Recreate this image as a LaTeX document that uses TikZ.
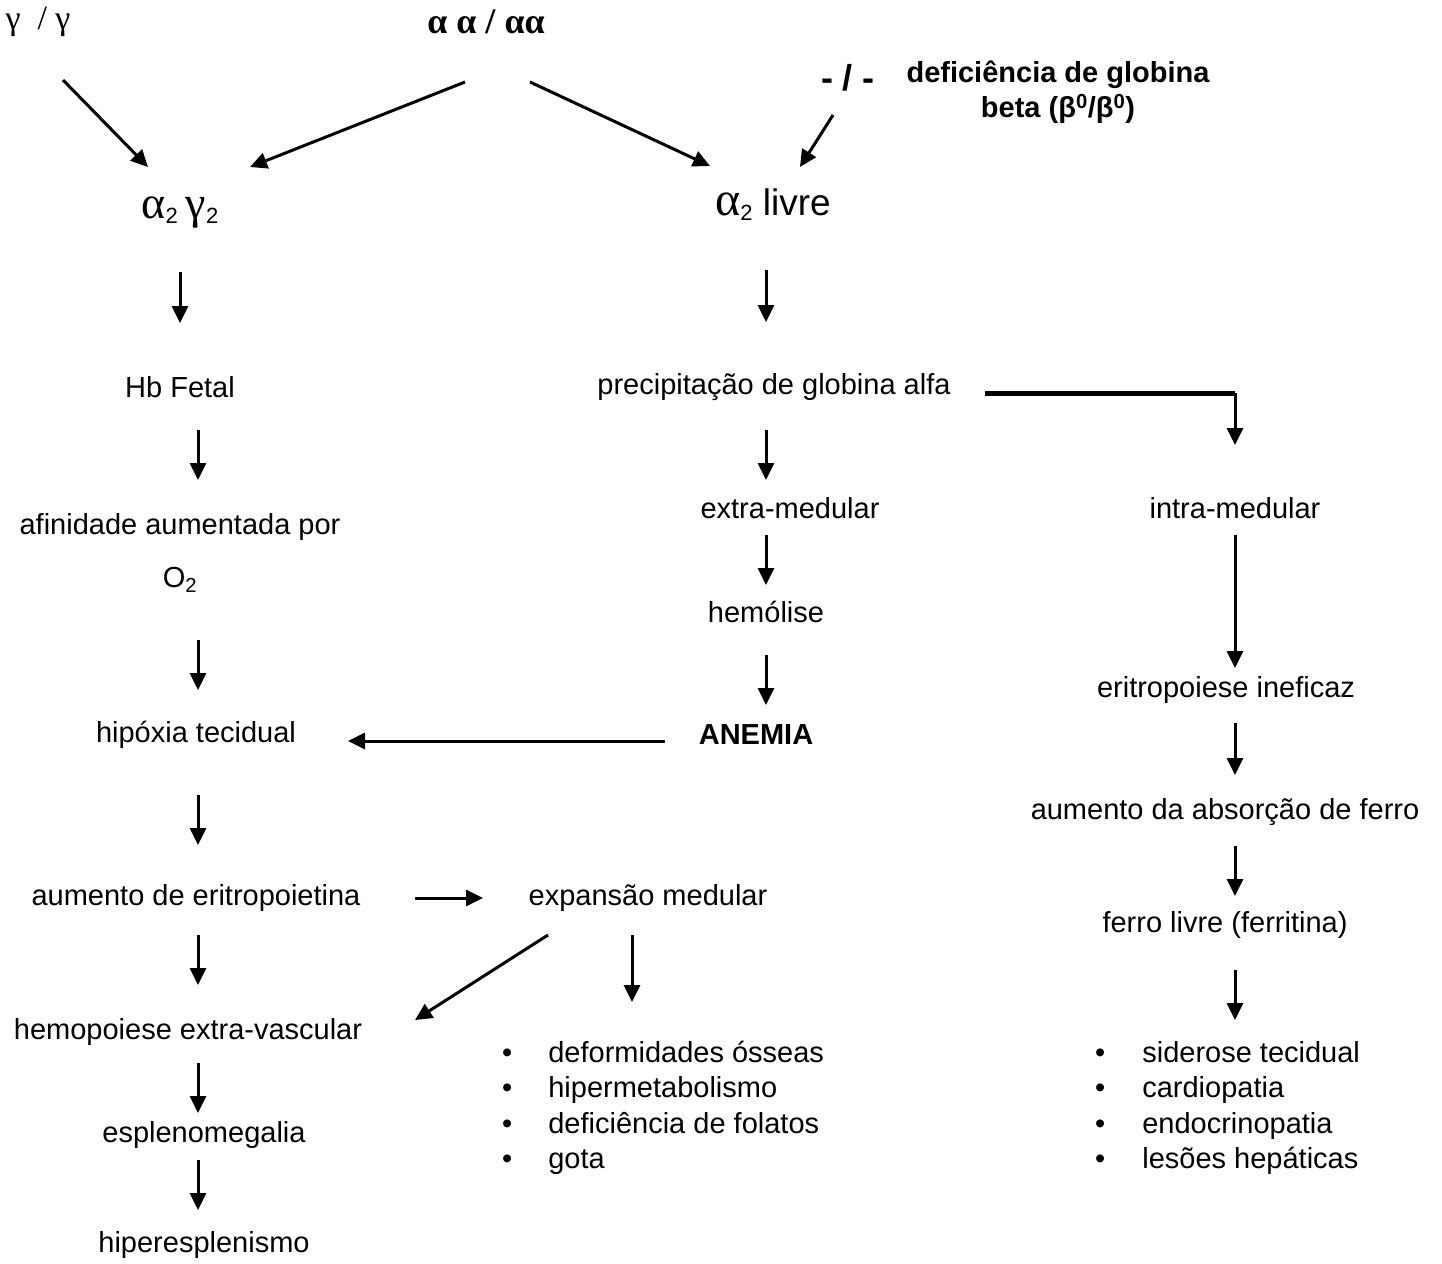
\documentclass[tikz,border=0pt]{standalone}
\usepackage{fontspec}
\setmainfont{Liberation Sans}
\newfontfamily\grk{Liberation Serif}
\usetikzlibrary{arrows.meta}
\newcommand{\lowtwo}{\raisebox{-5pt}{\fontsize{22}{22}\selectfont 2}}

\begin{document}
\begin{tikzpicture}[x=1pt,y=-1pt,
    txt/.style={inner sep=0pt,align=center,font=\fontsize{29}{35}\selectfont},
    arr/.style={line width=3pt,-{Triangle[length=17pt,width=16pt]}}]
  \useasboundingbox (0,0) rectangle (1442,1263);
  % genotypes
  \node[txt,font=\fontsize{34}{35}\selectfont] (gg) at (38,22) {\grk γ\ \ / γ};
  \node[txt,font=\fontsize{36}{35}\selectfont\bfseries] (aa) at (486,22)
    {\grk α α / αα};
  \node[txt,font=\fontsize{36}{35}\selectfont\bfseries] (mm) at (848,78) {- / -};
  \node[txt,font=\fontsize{29}{35}\selectfont\bfseries] (defb) at (1058,92)
    {deficiência de globina\\beta (β\textsuperscript{0}/β\textsuperscript{0})};
  \node[txt] (g2) at (180,213)
    {{\grk\fontsize{46}{46}\selectfont α}\lowtwo\ {\grk\fontsize{46}{46}\selectfont γ}\lowtwo};
  \node[txt,font=\fontsize{37}{44}\selectfont] (alivre) at (773,205)
    {{\grk\fontsize{48}{48}\selectfont α}\lowtwo\ livre};
  % left column
  \node[txt] (hbf) at (180,387) {Hb Fetal};
  \node[txt,font=\fontsize{29}{53}\selectfont] (afin) at (180,553)
    {afinidade aumentada por\\O\textsubscript{2}};
  \node[txt] (hipox) at (196,735) {hipóxia tecidual};
  \node[txt] (eritro) at (196,898) {aumento de eritropoietina};
  \node[txt] (hemop) at (188,1032) {hemopoiese extra-vascular};
  \node[txt] (esplen) at (204,1135) {esplenomegalia};
  \node[txt] (hiper) at (204,1245) {hiperesplenismo};
  % middle column
  \node[txt] (precip) at (774,387) {precipitação de globina alfa};
  \node[txt] (extra) at (790,508) {extra-medular};
  \node[txt] (hemol) at (766,612) {hemólise};
  \node[txt,font=\fontsize{29}{35}\selectfont\bfseries] (anemia) at (756,735) {ANEMIA};
  \node[txt] (expan) at (648,898) {expansão medular};
  \node[txt,font=\fontsize{29}{35.5}\selectfont,anchor=north west] (efx) at (502,1037)
    {\begin{tabular}{@{}l@{\hspace{36pt}}l@{}}
      • & deformidades ósseas\\
      • & hipermetabolismo\\
      • & deficiência de folatos\\
      • & gota
    \end{tabular}};
  % right column
  \node[txt] (intra) at (1235,508) {intra-medular};
  \node[txt] (eritin) at (1226,690) {eritropoiese ineficaz};
  \node[txt] (absor) at (1225,812) {aumento da absorção de ferro};
  \node[txt] (ferro) at (1225,925) {ferro livre (ferritina)};
  \node[txt,font=\fontsize{29}{35.5}\selectfont,anchor=north west] (sid) at (1095,1037)
    {\begin{tabular}{@{}l@{\hspace{37pt}}l@{}}
      • & siderose tecidual\\
      • & cardiopatia\\
      • & endocrinopatia\\
      • & lesões hepáticas
    \end{tabular}};
  \coordinate (cL) at (198,0);
  \coordinate (cM) at (766,0);
  \coordinate (cB) at (632,0);
  \coordinate (cR) at (1235,0);
  \coordinate (rA) at (0,741);
  \coordinate (kP) at (1235,393);
  % arrows
  \draw[arr] ([shift={(25,58)}]gg.center) -- ([shift={(-32,-46)}]g2.center);
  \draw[arr] ([shift={(-21,60)}]aa.center) -- ([shift={(70,-46)}]g2.center);
  \draw[arr] ([shift={(44,60)}]aa.center) -- ([shift={(-63,-39)}]alivre.center);
  \draw[arr] ([shift={(-15,37)}]mm.center) -- ([shift={(27,-38)}]alivre.center);
  \draw[arr,shorten <=59pt,shorten >=64pt] (g2.center) -- (hbf.center);
  \draw[arr,shorten <=43pt,shorten >=73pt] (hbf -| cL) -- (afin -| cL);
  \draw[arr,shorten <=87pt,shorten >=45pt] (afin -| cL) -- (hipox -| cL);
  \draw[arr,shorten <=60pt,shorten >=53pt] (hipox -| cL) -- (eritro -| cL);
  \draw[arr,shorten <=37pt,shorten >=47pt] (eritro -| cL) -- (hemop -| cL);
  \draw[arr,shorten <=31pt,shorten >=22pt] (hemop -| cL) -- (esplen -| cL);
  \draw[arr,shorten <=25pt,shorten >=35pt] (esplen -| cL) -- (hiper -| cL);
  \draw[arr,shorten <=65pt,shorten >=65pt] (alivre -| cM) -- (precip -| cM);
  \draw[arr,shorten <=43pt,shorten >=28pt] (precip -| cM) -- (extra -| cM);
  \draw[arr,shorten <=27pt,shorten >=27pt] (extra -| cM) -- (hemol -| cM);
  \draw[arr,shorten <=43pt,shorten >=30pt] (hemol -| cM) -- (anemia -| cM);
  \draw[arr,shorten <=91pt,shorten >=152pt] (anemia |- rA) -- (hipox |- rA);
  \draw[arr,shorten <=219pt,shorten >=165pt] (eritro.center) -- (expan.center);
  \draw[arr] ([shift={(-100,37)}]expan.center) -- ([shift={(227,-12)}]hemop.center);
  \draw[arr,shorten <=37pt,shorten >=35pt] (expan -| cB) -- (efx.north -| cB);
  \draw[line width=5pt,shorten <=211pt] (precip |- kP) -- (kP);
  \draw[arr,shorten >=63pt] (kP) -- (intra -| cR);
  \draw[arr,shorten <=27pt,shorten >=22pt] (intra -| cR) -- (eritin -| cR);
  \draw[arr,shorten <=33pt,shorten >=37pt] (eritin -| cR) -- (absor -| cR);
  \draw[arr,shorten <=34pt,shorten >=29pt] (absor -| cR) -- (ferro -| cR);
  \draw[arr,shorten <=45pt,shorten >=17pt] (ferro -| cR) -- (sid.north -| cR);
\end{tikzpicture}
\end{document}
